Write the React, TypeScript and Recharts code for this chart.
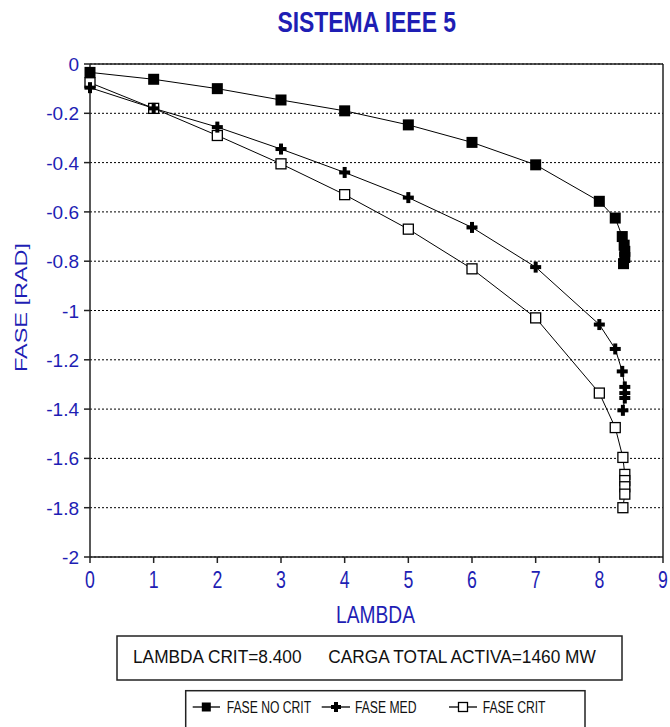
import React from "react";
import { LineChart, Line, XAxis, YAxis, CartesianGrid, ReferenceLine } from "recharts";

const BLUE = "#1e1eb4";
const FONT = "'Liberation Sans', Arial, sans-serif";

// valores
const lambdaNoCrit = [0, 1, 2, 3, 4, 5, 6, 7, 8, 8.25, 8.36, 8.39, 8.4, 8.4, 8.38];
const faseNoCrit = [-0.034, -0.062, -0.1, -0.146, -0.19, -0.247, -0.318, -0.409, -0.557, -0.625, -0.7, -0.735, -0.76, -0.785, -0.81];

const lambdaMed = [0, 1, 2, 3, 4, 5, 6, 7, 8, 8.25, 8.36, 8.4, 8.4, 8.4, 8.37];
const faseMed = [-0.096, -0.18, -0.256, -0.345, -0.44, -0.542, -0.663, -0.824, -1.057, -1.156, -1.247, -1.31, -1.335, -1.355, -1.405];

const lambdaCrit = [0, 1, 2, 3, 4, 5, 6, 7, 8, 8.25, 8.37, 8.4, 8.4, 8.4, 8.4, 8.37];
const faseCrit = [-0.076, -0.18, -0.29, -0.405, -0.53, -0.67, -0.831, -1.03, -1.335, -1.475, -1.596, -1.665, -1.69, -1.715, -1.745, -1.8];

const xTicks = [0, 1, 2, 3, 4, 5, 6, 7, 8, 9];
const yTicks = [0, -0.2, -0.4, -0.6, -0.8, -1, -1.2, -1.4, -1.6, -1.8, -2];

const toPoints = (xs: number[], ys: number[]) => xs.map((x, i) => ({ x, y: ys[i] }));
const noCritData = toPoints(lambdaNoCrit, faseNoCrit);
const medData = toPoints(lambdaMed, faseMed);
const critData = toPoints(lambdaCrit, faseCrit);

const FilledSquare = ({ cx, cy, s = 11 }: any) => (
  <rect x={cx - s / 2} y={cy - s / 2} width={s} height={s} fill="#000" />
);

const Plus = ({ cx, cy, s = 11 }: any) => (
  <g fill="#000">
    <rect x={cx - s / 2} y={cy - 2} width={s} height={4} />
    <rect x={cx - 2} y={cy - s / 2} width={4} height={s} />
  </g>
);

const OpenSquare = ({ cx, cy, s = 10 }: any) => (
  <rect x={cx - s / 2} y={cy - s / 2} width={s} height={s} fill="#fff" stroke="#000" strokeWidth={1.3} />
);

const XTick = ({ x, y, payload }: any) => (
  <g transform={`translate(${x},${y})`}>
    <text transform="scale(0.77,1)" textAnchor="middle" y={23.4} fontSize={23} fill={BLUE} fontFamily={FONT}>
      {payload.value}
    </text>
  </g>
);

const YTick = ({ x, y, payload }: any) => (
  <text x={x - 3} y={y + 7} textAnchor="end" fontSize={19} fill={BLUE} fontFamily={FONT}>
    {String(payload.value)}
  </text>
);

const axisStroke = { stroke: "#222", strokeWidth: 1.5 };

export default function App() {
  return (
    <div style={{ position: "absolute", left: 0, top: 0, width: 670, height: 727, overflow: "hidden", background: "#fff" }}>
      <LineChart width={670} height={600} margin={{ top: 64, right: 7, bottom: 0, left: 0 }}>
        <CartesianGrid vertical={false} stroke="#000" strokeDasharray="2 2" />
        <XAxis
          dataKey="x"
          type="number"
          domain={[0, 9]}
          ticks={xTicks}
          height={43}
          tickSize={6}
          axisLine={axisStroke}
          tickLine={axisStroke}
          tick={<XTick />}
          allowDuplicatedCategory={false}
        />
        <YAxis
          type="number"
          domain={[-2, 0]}
          ticks={yTicks}
          width={90}
          tickSize={6}
          axisLine={axisStroke}
          tickLine={axisStroke}
          tick={<YTick />}
        />
        <ReferenceLine y={0} stroke="#222" strokeWidth={1.5} />
        <ReferenceLine x={9} stroke="#222" strokeWidth={1.5} />
        <Line
          data={critData}
          dataKey="y"
          stroke="#000"
          strokeWidth={1}
          isAnimationActive={false}
          dot={(p: any) => <OpenSquare key={`c-${p.index}`} cx={p.cx} cy={p.cy} />}
        />
        <Line
          data={medData}
          dataKey="y"
          stroke="#000"
          strokeWidth={1}
          isAnimationActive={false}
          dot={(p: any) => <Plus key={`m-${p.index}`} cx={p.cx} cy={p.cy} />}
        />
        <Line
          data={noCritData}
          dataKey="y"
          stroke="#000"
          strokeWidth={1}
          isAnimationActive={false}
          dot={(p: any) => <FilledSquare key={`n-${p.index}`} cx={p.cx} cy={p.cy} />}
        />
      </LineChart>

      <svg width={670} height={727} style={{ position: "absolute", left: 0, top: 0, pointerEvents: "none" }} fontFamily={FONT}>
        <text transform="translate(366.7,31.5) scale(0.79,1)" textAnchor="middle" fontSize={29} fontWeight="bold" fill={BLUE}>
          SISTEMA IEEE 5
        </text>
        <text transform="translate(27,307.5) rotate(-90) scale(1.38,1)" textAnchor="middle" fontSize={17} fill={BLUE}>
          FASE [RAD]
        </text>
        <text transform="translate(375.5,623) scale(0.835,1)" textAnchor="middle" fontSize={23} fill={BLUE}>
          LAMBDA
        </text>

        <rect x={117} y={636} width={505} height={44} fill="none" stroke="#222" strokeWidth={1.5} />
        <text transform="translate(133,663.3) scale(0.935,1)" fontSize={18.5} fill="#111">
          LAMBDA CRIT=8.400
        </text>
        <text transform="translate(328.3,663.3) scale(0.935,1)" fontSize={18.5} fill="#111">
          CARGA TOTAL ACTIVA=1460 MW
        </text>

        <rect x={185.7} y={690.7} width={399.3} height={60} fill="none" stroke="#222" strokeWidth={1.5} />
        <line x1={192.7} x2={220} y1={707} y2={707} stroke="#000" strokeWidth={1.3} />
        <FilledSquare cx={206.3} cy={707} s={9} />
        <text transform="translate(226.7,713.3) scale(0.76,1)" fontSize={16} fill="#111">FASE NO CRIT</text>
        <line x1={321.7} x2={350} y1={707} y2={707} stroke="#000" strokeWidth={1.3} />
        <Plus cx={336} cy={707} s={10} />
        <text transform="translate(355,713.3) scale(0.76,1)" fontSize={16} fill="#111">FASE MED</text>
        <line x1={449} x2={477} y1={707} y2={707} stroke="#000" strokeWidth={1.3} />
        <OpenSquare cx={463} cy={707} s={9} />
        <text transform="translate(482.7,713.3) scale(0.76,1)" fontSize={16} fill="#111">FASE CRIT</text>
      </svg>
    </div>
  );
}
